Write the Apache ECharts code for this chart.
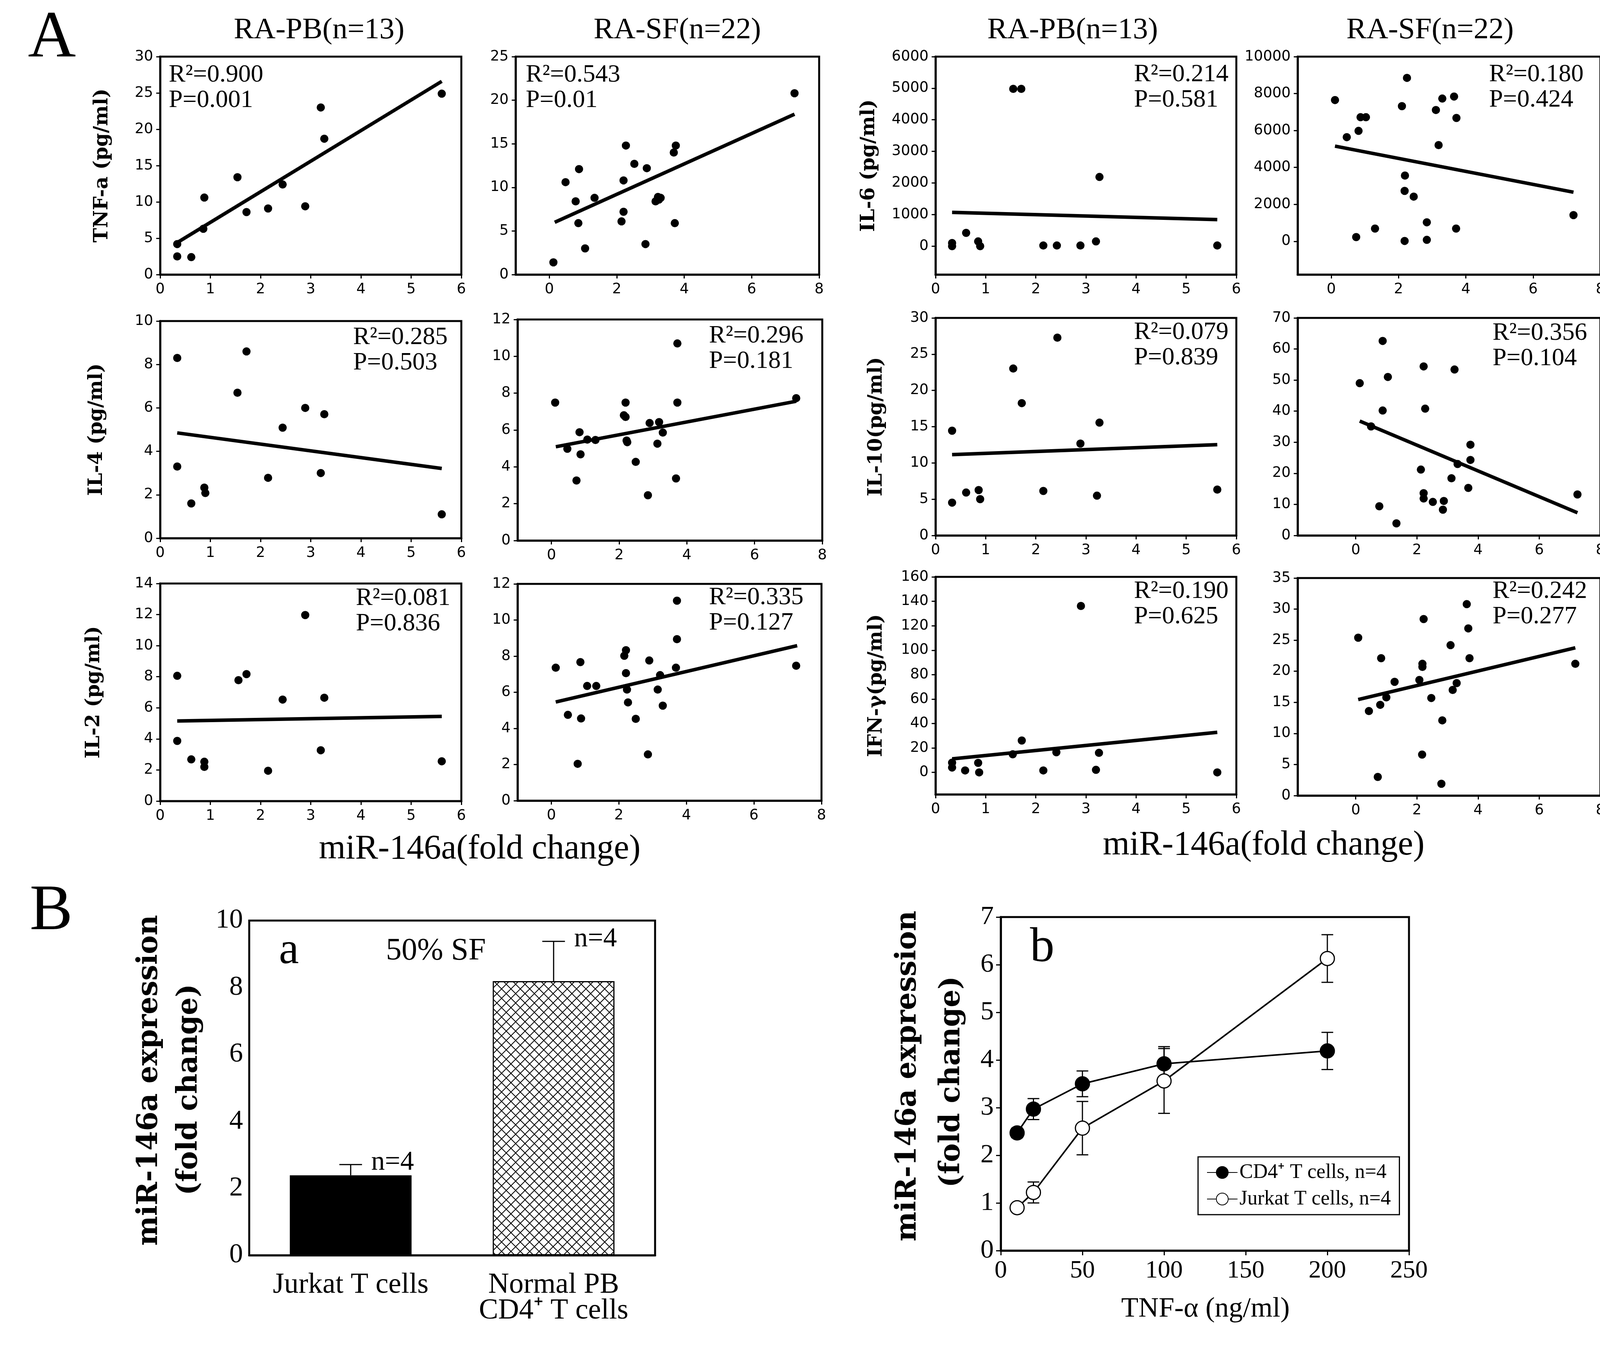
<!DOCTYPE html>
<html><head><meta charset="utf-8">
<script src="https://cdn.jsdelivr.net/npm/echarts@6/dist/echarts.min.js"></script>
<style>html,body{margin:0;padding:0;background:#fff}#c{width:4157px;height:3477px}</style>
</head><body><div id="c"></div>
<script>
// ---------------- DATA ----------------
const pbXTicks = [0,1,2,3,4,5,6];
const sfXTicks = [0,2,4,6,8];

const tnfPB = [[0.34,4.2],[0.34,2.5],[0.62,2.4],[0.86,6.3],[0.88,10.6],[1.54,13.4],[1.72,8.6],[2.15,9.1],[2.44,12.4],[2.89,9.4],[3.2,23.0],[3.27,18.7],[5.61,24.9]];
const tnfPBFit = [[0.34,4.4],[5.61,26.6]];
const tnfPBStats = ['R²=0.900','P=0.001'];
const tnfPBYTicks = [0,5,10,15,20,25,30];

const tnfSF = [[0.12,1.4],[0.48,10.6],[0.78,8.4],[0.86,5.9],[0.88,12.1],[1.06,3.0],[1.34,8.8],[2.14,6.1],[2.2,7.2],[2.2,10.8],[2.27,14.8],[2.52,12.7],[2.85,3.5],[2.89,12.2],[3.15,8.4],[3.22,8.9],[3.25,8.6],[3.3,8.8],[3.69,14.0],[3.72,5.9],[3.75,14.8],[7.27,20.8]];
const tnfSFFit = [[0.16,6.0],[7.27,18.4]];
const tnfSFStats = ['R²=0.543','P=0.01'];
const tnfSFYTicks = [0,5,10,15,20,25];

const il6PB = [[0.33,100],[0.33,0],[0.61,420],[0.85,150],[0.89,0],[1.55,4980],[1.71,4980],[2.15,20],[2.42,20],[2.89,20],[3.2,150],[3.27,2190],[5.62,20]];
const il6PBFit = [[0.33,1070],[5.62,840]];
const il6PBStats = ['R²=0.214','P=0.581'];
const il6PBYTicks = [0,1000,2000,3000,4000,5000,6000];

const il6SF = [[0.11,7650],[0.46,5640],[0.81,5980],[0.87,6720],[1.03,6720],[0.74,230],[1.3,690],[2.1,7320],[2.25,8850],[2.19,3560],[2.18,2730],[2.45,2420],[2.18,20],[2.84,1030],[2.84,80],[3.11,7110],[3.3,7730],[3.19,5210],[3.65,7840],[3.72,6680],[3.71,690],[7.2,1420]];
const il6SFFit = [[0.11,5155],[7.2,2660]];
const il6SFStats = ['R²=0.180','P=0.424'];
const il6SFYTicks = [0,2000,4000,6000,8000,10000];

const il4PB = [[0.34,8.3],[0.34,3.3],[0.62,1.6],[0.88,2.33],[0.9,2.08],[1.54,6.7],[1.72,8.6],[2.15,2.78],[2.44,5.09],[2.89,6.0],[3.2,3.0],[3.27,5.71],[5.61,1.1]];
const il4PBFit = [[0.34,4.85],[5.61,3.21]];
const il4PBStats = ['R²=0.285','P=0.503'];
const il4PBYTicks = [0,2,4,6,8,10];

const il4SF = [[0.11,7.49],[0.47,4.98],[0.83,5.88],[0.86,4.68],[0.74,3.26],[1.06,5.48],[1.3,5.46],[2.19,7.49],[2.14,6.8],[2.19,6.71],[2.22,5.43],[2.24,5.34],[2.49,4.27],[2.9,6.38],[2.85,2.46],[3.18,6.43],[3.13,5.26],[3.29,5.86],[3.72,10.7],[3.72,7.49],[3.68,3.37],[7.23,7.73]];
const il4SFFit = [[0.13,5.09],[7.23,7.56]];
const il4SFStats = ['R²=0.296','P=0.181'];
const il4SFYTicks = [0,2,4,6,8,10,12];

const il10PB = [[0.33,14.45],[0.33,4.53],[0.61,5.92],[0.86,6.26],[0.89,5.01],[1.55,23.02],[1.72,18.25],[2.15,6.14],[2.43,27.28],[2.89,12.67],[3.22,5.49],[3.27,15.56],[5.62,6.33]];
const il10PBFit = [[0.33,11.15],[5.62,12.52]];
const il10PBStats = ['R²=0.079','P=0.839'];
const il10PBYTicks = [0,5,10,15,20,25,30];

const il10SF = [[0.13,49.0],[0.5,35.1],[0.77,9.4],[0.88,62.6],[0.88,40.2],[1.05,51.0],[1.33,3.9],[2.13,21.2],[2.22,54.4],[2.27,40.8],[2.22,13.6],[2.22,11.9],[2.52,10.8],[2.88,11.1],[2.85,8.3],[3.13,18.4],[3.23,53.4],[3.33,23.0],[3.68,15.3],[3.75,24.3],[3.75,29.2],[7.25,13.2]];
const il10SFFit = [[0.13,36.8],[7.25,7.3]];
const il10SFStats = ['R²=0.356','P=0.104'];
const il10SFYTicks = [0,10,20,30,40,50,60,70];

const il2PB = [[0.34,8.06],[0.34,3.87],[0.62,2.68],[0.88,2.53],[0.88,2.2],[1.56,7.78],[1.72,8.17],[2.15,1.95],[2.44,6.53],[2.89,11.97],[3.2,3.27],[3.27,6.65],[5.61,2.56]];
const il2PBFit = [[0.34,5.15],[5.61,5.45]];
const il2PBStats = ['R²=0.081','P=0.836'];
const il2PBYTicks = [0,2,4,6,8,10,12,14];

const il2SF = [[0.13,7.36],[0.49,4.75],[0.86,7.67],[0.88,4.55],[0.78,2.04],[1.06,6.35],[1.33,6.35],[2.16,8.02],[2.21,8.33],[2.21,7.06],[2.24,6.15],[2.27,5.44],[2.5,4.53],[2.9,7.76],[2.86,2.56],[3.15,6.15],[3.22,6.95],[3.3,5.26],[3.69,7.36],[3.72,8.94],[3.72,11.07],[7.25,7.47]];
const il2SFFit = [[0.13,5.46],[7.28,8.58]];
const il2SFStats = ['R²=0.335','P=0.127'];
const il2SFYTicks = [0,2,4,6,8,10,12];

const ifnPB = [[0.33,8],[0.33,4],[0.59,1.6],[0.85,7.8],[0.87,0],[1.54,14.8],[1.72,26.1],[2.15,1.6],[2.41,16.5],[2.9,136.2],[3.2,2.1],[3.26,16.0],[5.62,0]];
const ifnPBFit = [[0.33,11.1],[5.62,32.8]];
const ifnPBStats = ['R²=0.190','P=0.625'];
const ifnPBYTicks = [0,20,40,60,80,100,120,140,160];

const ifnSF = [[0.08,25.4],[0.43,13.6],[0.8,14.6],[0.83,22.1],[0.72,3.0],[1.0,15.8],[1.27,18.3],[2.08,18.6],[2.18,21.2],[2.18,20.7],[2.22,28.4],[2.17,6.6],[2.47,15.7],[2.83,12.1],[2.8,1.9],[3.1,24.2],[3.17,17.0],[3.3,18.1],[3.63,30.8],[3.68,26.9],[3.72,22.1],[7.18,21.2]];
const ifnSFFit = [[0.08,15.45],[7.18,23.78]];
const ifnSFStats = ['R²=0.242','P=0.277'];
const ifnSFYTicks = [0,5,10,15,20,25,30,35];

// Panel B-a
const barCategories = ['Jurkat T cells','Normal PB\nCD4⁺ T cells'];
const barValues = [2.39, 8.19];
const barErrHigh = [2.71, 9.38];
const barN = ['n=4','n=4'];
const barYTicks = [0,2,4,6,8,10];

// Panel B-b
const doses = [10,20,50,100,200];
const cd4Mean = [2.47,2.97,3.5,3.92,4.19];
const cd4Err = [0.1,0.22,0.27,0.36,0.39];
const jurkatMean = [0.9,1.22,2.57,3.56,6.13];
const jurkatErr = [0.05,0.22,0.56,0.68,0.5];
const doseTicks = [0,50,100,150,200,250];
const foldTicks = [0,1,2,3,4,5,6,7];

// ---------------- LAYOUT ----------------
const panels = [
 {d:tnfPB, f:tnfPBFit, s:tnfPBStats, xt:pbXTicks, yt:tnfPBYTicks, xr:[0,6], yr:[0,30], box:[410,145,771,558], txt:[432,217], yn:'TNF-a (pg/ml)', ynx:262},
 {d:tnfSF, f:tnfSFFit, s:tnfSFStats, xt:sfXTicks, yt:tnfSFYTicks, xr:[-1,8], yr:[0,25], box:[1320,145,777,558], txt:[1346,217]},
 {d:il6PB, f:il6PBFit, s:il6PBStats, xt:pbXTicks, yt:il6PBYTicks, xr:[0,6], yr:[-900,6000], box:[2395,145,770,558], txt:[2903,216], yn:'IL-6 (pg/ml)', ynx:2225},
 {d:il6SF, f:il6SFFit, s:il6SFStats, xt:sfXTicks, yt:il6SFYTicks, xr:[-1,8], yr:[-1800,10000], box:[3322,145,775,558], txt:[3812,216]},
 {d:il4PB, f:il4PBFit, s:il4PBStats, xt:pbXTicks, yt:il4PBYTicks, xr:[0,6], yr:[0,10], box:[410,822,771,556], txt:[904,889], yn:'IL-4 (pg/ml)', ynx:248},
 {d:il4SF, f:il4SFFit, s:il4SFStats, xt:sfXTicks, yt:il4SFYTicks, xr:[-1,8], yr:[0,12], box:[1325,818,780,566], txt:[1815,885]},
 {d:il10PB, f:il10PBFit, s:il10PBStats, xt:pbXTicks, yt:il10PBYTicks, xr:[0,6], yr:[0,30], box:[2395,814,770,557], txt:[2903,876], yn:'IL-10(pg/ml)', ynx:2244},
 {d:il10SF, f:il10SFFit, s:il10SFStats, xt:sfXTicks, yt:il10SFYTicks, xr:[-1.9,8], yr:[0,70], box:[3322,814,775,557], txt:[3821,878]},
 {d:il2PB, f:il2PBFit, s:il2PBStats, xt:pbXTicks, yt:il2PBYTicks, xr:[0,6], yr:[0,14], box:[410,1494,771,557], txt:[911,1557], yn:'IL-2 (pg/ml)', ynx:241},
 {d:il2SF, f:il2SFFit, s:il2SFStats, xt:sfXTicks, yt:il2SFYTicks, xr:[-1,8], yr:[0,12], box:[1325,1495,778,555], txt:[1815,1555]},
 {d:ifnPB, f:ifnPBFit, s:ifnPBStats, xt:pbXTicks, yt:ifnPBYTicks, xr:[0,6], yr:[-18,160], box:[2395,1477,770,557], txt:[2903,1539], yn:'IFN-γ(pg/ml)', ynx:2244},
 {d:ifnSF, f:ifnSFFit, s:ifnSFStats, xt:sfXTicks, yt:ifnSFYTicks, xr:[-1.9,8], yr:[0,35], box:[3322,1480,775,557], txt:[3821,1539]}
];

const SANS = '"DejaVu Sans", "Liberation Sans", sans-serif';
const SERIF = '"Liberation Serif", "Times New Roman", serif';
const DSERIF = '"DejaVu Serif", serif';

const grids = [], xAxes = [], yAxes = [], series = [], graphics = [];
const noNeg = v => (v < 0 ? '' : String(v));
function txt(text, x, y, size, family, opt) {
  opt = opt || {};
  const g = {type:'text', x:x, y:y, z:10, style:{text:text, fontFamily:family, fontSize:size, fill:'#000',
    textAlign:opt.align||'center', align:opt.align||'center', textVerticalAlign:opt.valign||'middle', verticalAlign:opt.valign||'middle'}};
  if (opt.rot) g.rotation = opt.rot;
  if (opt.bold) g.style.fontWeight = 'bold';
  if (opt.lh) g.style.lineHeight = opt.lh;
  graphics.push(g);
}

panels.forEach((p, i) => {
  grids.push({left:p.box[0], top:p.box[1], width:p.box[2], height:p.box[3], show:true, borderColor:'#000', borderWidth:5, backgroundColor:'transparent', outerBoundsMode:'none'});
  xAxes.push({gridIndex:i, type:'value', min:p.xr[0], max:p.xr[1],
    axisLine:{onZero:false, lineStyle:{color:'#000', width:5}},
    axisTick:{length:10, lineStyle:{color:'#000', width:3}, customValues:p.xt},
    axisLabel:{customValues:p.xt, formatter:noNeg, fontFamily:SANS, fontSize:37, color:'#000', margin:20},
    splitLine:{show:false}});
  yAxes.push({gridIndex:i, type:'value', min:p.yr[0], max:p.yr[1],
    axisLine:{onZero:false, lineStyle:{color:'#000', width:5}},
    axisTick:{length:10, lineStyle:{color:'#000', width:3}, customValues:p.yt},
    axisLabel:{customValues:p.yt, formatter:noNeg, fontFamily:SANS, fontSize:37, color:'#000', margin:18},
    splitLine:{show:false}});
  series.push({type:'line', xAxisIndex:i, yAxisIndex:i, data:p.f, symbol:'none', lineStyle:{color:'#000', width:9}, z:2, silent:true});
  series.push({type:'scatter', xAxisIndex:i, yAxisIndex:i, data:p.d, symbol:'circle', symbolSize:21, itemStyle:{color:'#000', opacity:1}, z:3});
  txt(p.s.join('\n'), p.txt[0], p.txt[1]-57, 64, SERIF, {align:'left', valign:'top', lh:65});
  if (p.yn) txt(p.yn, p.ynx, p.box[1]+p.box[3]/2, 50, DSERIF, {rot:Math.PI/2, bold:true});
});

// Titles and panel letters
const titles = [['RA-PB(n=13)',817],['RA-SF(n=22)',1734],['RA-PB(n=13)',2746],['RA-SF(n=22)',3661]];
titles.forEach(t => txt(t[0], t[1], 78, 77, SERIF));
txt('A', 133, 100, 170, SERIF);
txt('B', 131, 2336, 165, SERIF);
txt('miR-146a(fold change)', 1228, 2175, 88, SERIF);
txt('miR-146a(fold change)', 3235, 2165, 88, SERIF);

// ---------- Panel B-a ----------
const pat = document.createElement('canvas');
pat.width = 24; pat.height = 24;
(function(){const g = pat.getContext('2d'); g.fillStyle='#fff'; g.fillRect(0,0,24,24); g.strokeStyle='#000'; g.lineWidth=2;
 g.beginPath(); g.moveTo(-2,-2); g.lineTo(26,26); g.moveTo(26,-2); g.lineTo(-2,26); g.stroke();})();

const ia = grids.length;
grids.push({left:638, top:2357, width:1039, height:857, show:true, borderColor:'#000', borderWidth:5, outerBoundsMode:'none'});
xAxes.push({gridIndex:ia, type:'category', data:barCategories,
  axisLine:{lineStyle:{color:'#000', width:5}}, axisTick:{alignWithLabel:true, length:8, lineStyle:{color:'#000', width:2}},
  axisLabel:{fontFamily:SERIF, fontSize:74, lineHeight:66, color:'#000', margin:44}, splitLine:{show:false}});
yAxes.push({gridIndex:ia, type:'value', min:0, max:10, interval:2,
  axisLine:{lineStyle:{color:'#000', width:5}}, axisTick:{length:12, lineStyle:{color:'#000', width:3}, customValues:barYTicks},
  axisLabel:{customValues:barYTicks, fontFamily:SERIF, fontSize:70, color:'#000', margin:16}, splitLine:{show:false}});
series.push({type:'bar', xAxisIndex:ia, yAxisIndex:ia, barWidth:'60%',
  data: barValues.map((v,k) => ({value:v, itemStyle:{color: k===0 ? '#000' : {image:pat, repeat:'repeat'}, borderColor:'#000', borderWidth:3}})), z:2});
function errRender(capHalf, upperOnly, lw) {
  return function(params, api) {
    const x = api.value(0), lo = api.value(1), hi = api.value(2);
    const a = api.coord([x, lo]), b = api.coord([x, hi]);
    const st = {stroke:'#000', lineWidth:lw};
    const ch = [
      {type:'line', shape:{x1:a[0], y1:a[1], x2:b[0], y2:b[1]}, style:st},
      {type:'line', shape:{x1:b[0]-capHalf, y1:b[1], x2:b[0]+capHalf, y2:b[1]}, style:st}];
    if (!upperOnly) ch.push({type:'line', shape:{x1:a[0]-capHalf, y1:a[1], x2:a[0]+capHalf, y2:a[1]}, style:st});
    return {type:'group', children:ch};
  };
}
series.push({type:'custom', xAxisIndex:ia, yAxisIndex:ia, renderItem:errRender(29, true, 3), encode:{x:0, y:[1,2]},
  data: barValues.map((v,k) => [k, v, barErrHigh[k]]), z:3, silent:true});
// n=4 labels, placed to the right of each error cap
series.push({type:'scatter', xAxisIndex:ia, yAxisIndex:ia, symbolSize:1, itemStyle:{opacity:0},
  data: barErrHigh.map((v,k)=>({value:[k, v], label:{show:true, formatter:barN[k], position:'insideBottomLeft', offset:[48,34], fontFamily:SERIF, fontSize:70, color:'#000', opacity:1}})),
  z:4, silent:true});
txt('a', 714, 2436, 115, SERIF, {align:'left'});
txt('50% SF', 988, 2436, 80, SERIF, {align:'left'});
txt('miR-146a expression', 383, 2766, 72, DSERIF, {rot:Math.PI/2, bold:true});
txt('(fold change)', 485, 2790, 72, DSERIF, {rot:Math.PI/2, bold:true});

// ---------- Panel B-b ----------
const ib = grids.length;
grids.push({left:2562, top:2348, width:1045, height:854, show:true, borderColor:'#000', borderWidth:5, outerBoundsMode:'none'});
xAxes.push({gridIndex:ib, type:'value', min:0, max:250, interval:50,
  axisLine:{onZero:false, lineStyle:{color:'#000', width:5}}, axisTick:{length:12, lineStyle:{color:'#000', width:3}, customValues:doseTicks},
  axisLabel:{customValues:doseTicks, fontFamily:SERIF, fontSize:64, color:'#000', margin:20}, splitLine:{show:false}});
yAxes.push({gridIndex:ib, type:'value', min:0, max:7, interval:1,
  axisLine:{onZero:false, lineStyle:{color:'#000', width:5}}, axisTick:{length:12, lineStyle:{color:'#000', width:3}, customValues:foldTicks},
  axisLabel:{customValues:foldTicks, fontFamily:SERIF, fontSize:68, color:'#000', margin:18}, splitLine:{show:false}});
series.push({type:'custom', xAxisIndex:ib, yAxisIndex:ib, renderItem:errRender(15, false, 3), encode:{x:0, y:[1,2]},
  data: doses.map((d,k) => [d, cd4Mean[k]-cd4Err[k], cd4Mean[k]+cd4Err[k]]), z:2, silent:true});
series.push({type:'custom', xAxisIndex:ib, yAxisIndex:ib, renderItem:errRender(15, false, 3), encode:{x:0, y:[1,2]},
  data: doses.map((d,k) => [d, jurkatMean[k]-jurkatErr[k], jurkatMean[k]+jurkatErr[k]]), z:2, silent:true});
series.push({name:'CD4⁺ T cells, n=4', type:'line', xAxisIndex:ib, yAxisIndex:ib, data: doses.map((d,k)=>[d, cd4Mean[k]]),
  symbol:'circle', symbolSize:36, itemStyle:{color:'#000', borderColor:'#000', borderWidth:3}, lineStyle:{color:'#000', width:4}, z:4});
series.push({name:'Jurkat T cells, n=4', type:'line', xAxisIndex:ib, yAxisIndex:ib, data: doses.map((d,k)=>[d, jurkatMean[k]]),
  symbol:'circle', symbolSize:36, itemStyle:{color:'#fff', borderColor:'#000', borderWidth:3}, lineStyle:{color:'#000', width:4}, z:4});
txt('b', 2668, 2428, 125, SERIF);
txt('TNF-α (ng/ml)', 3086, 3352, 72, SERIF);
txt('miR-146a expression', 2325, 2755, 72, DSERIF, {rot:Math.PI/2, bold:true});
txt('(fold change)', 2437, 2770, 72, DSERIF, {rot:Math.PI/2, bold:true});

const chart = echarts.init(document.getElementById('c'), null, {renderer:'canvas'});
chart.setOption({
  animation:false,
  backgroundColor:'#fff',
  grid:grids, xAxis:xAxes, yAxis:yAxes, series:series,
  legend:{show:true, left:3067, top:2962, orient:'vertical', data:['CD4⁺ T cells, n=4','Jurkat T cells, n=4'],
    borderColor:'#000', borderWidth:3, padding:[14,22,14,22], itemWidth:78, itemHeight:38, itemGap:16,
    textStyle:{fontFamily:SERIF, fontSize:52, color:'#000'}, selectedMode:false},
  graphic:graphics
});
</script></body></html>
